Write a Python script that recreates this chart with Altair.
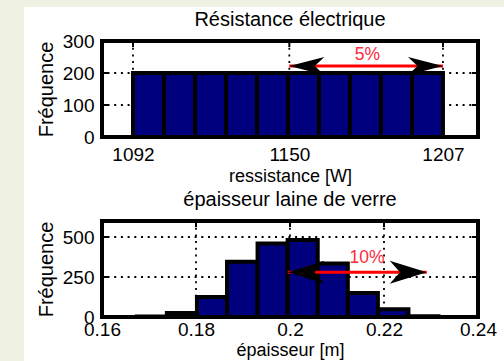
import altair as alt
import pandas as pd

# ---------------- data ----------------
res_edges = [1092.0, 1103.5, 1115.0, 1126.5, 1138.0, 1149.5, 1161.0, 1172.5, 1184.0, 1195.5, 1207.0]
res_counts = [200, 200, 200, 200, 200, 200, 200, 200, 200, 200]
res_xticks = [1092, 1150, 1207]
res_yticks = [0, 100, 200, 300]
res_grid_x = [1092, 1150, 1207]
res_grid_y = [100, 200]
res_arrow = {"x1": [1150.0], "x2": [1207.0], "y": [222.0]}
res_label = {"x": [1179.0], "y": [256.0], "t": ["5%"]}

ep_edges = [0.1674, 0.1738, 0.1802, 0.1866, 0.1931, 0.1995, 0.2059, 0.2123, 0.2187, 0.2252, 0.2316]
ep_counts = [3, 25, 125, 346, 460, 481, 335, 150, 48, 5]
ep_xticks = [0.16, 0.18, 0.2, 0.22, 0.24]
ep_yticks = [0, 250, 500]
ep_grid_x = [0.18, 0.2, 0.22]
ep_grid_y = [250, 500]
ep_arrow = {"x1": [0.1995], "x2": [0.2291], "y": [280.0]}
ep_label = {"x": [0.2164], "y": [369.0], "t": ["10%"]}

titles = ["Résistance électrique", "épaisseur laine de verre"]
xtitles = ["ressistance [W]", "épaisseur [m]"]

FONT = "Liberation Sans"
BAR = "#00007f"
GREEN = "#eff2e3"
RED = "#ff0000"
TXTRED = "#ff2a3c"
W, H = 376, 96
TK = 6  # inward tick length


def panel(edges, counts, xdom, ydom, xticks, yticks, gx, gy, arrow, label,
          title, xtitle, xfmt, lab_pad, title_pad, head_len, head_half, bg=False):
    xs = alt.Scale(domain=xdom, nice=False, zero=False)
    ys = alt.Scale(domain=ydom, nice=False, zero=False)
    xaxis = alt.Axis(values=xticks, format=xfmt, title=xtitle, labelFontSize=19,
                     titleFontSize=18, titleFontWeight="normal", titleBaseline="alphabetic",
                     labelPadding=lab_pad, titlePadding=title_pad, zindex=1,
                     grid=False, domain=False, ticks=False, labelFlush=False)
    yaxis = alt.Axis(values=yticks, format="d", title="Fréquence", labelFontSize=19,
                     titleFontSize=20, titleFontWeight="normal",
                     labelPadding=8, titlePadding=6, zindex=1,
                     grid=False, domain=False, ticks=False, labelFlush=False)

    def X(f):
        return alt.X(f, type="quantitative", scale=xs, axis=xaxis)

    def Y(f):
        return alt.Y(f, type="quantitative", scale=ys, axis=yaxis)

    one = pd.DataFrame({"k": [0]})
    layers = []
    if bg:
        layers.append(alt.Chart(one).mark_rect(fill="white").encode(
            x=alt.value(-78), x2=alt.value(402), y=alt.value(-34), y2=alt.value(320)))
    dot = dict(color="black", strokeWidth=1.8, strokeDash=[2, 4.7])
    layers.append(alt.Chart(pd.DataFrame({"x": gx})).mark_rule(**dot).encode(x=X("x")))
    layers.append(alt.Chart(pd.DataFrame({"y": gy})).mark_rule(**dot).encode(y=Y("y")))
    # MATLAB-style inward ticks
    xt = pd.DataFrame({"x": xticks})
    yt = pd.DataFrame({"y": yticks})
    tk = dict(color="black", strokeWidth=2)
    layers.append(alt.Chart(xt).mark_rule(**tk).encode(
        x=X("x"), y=alt.value(0), y2=alt.value(TK)))
    layers.append(alt.Chart(xt).mark_rule(**tk).encode(
        x=X("x"), y=alt.value(H - TK), y2=alt.value(H)))
    layers.append(alt.Chart(yt).mark_rule(**tk).encode(
        y=Y("y"), x=alt.value(0), x2=alt.value(TK)))
    layers.append(alt.Chart(yt).mark_rule(**tk).encode(
        y=Y("y"), x=alt.value(W - TK), x2=alt.value(W)))
    bars = pd.DataFrame({"lo": edges[:-1], "hi": edges[1:], "c": counts})
    layers.append(alt.Chart(bars).mark_rect(fill=BAR, stroke="black", strokeWidth=4,
                                            strokeJoin="miter").encode(
        x=X("lo"), x2="hi", y=Y("c"), y2=alt.Y2(datum=0)))
    adf = pd.DataFrame(arrow)
    layers.append(alt.Chart(adf).mark_rule(color=RED, strokeWidth=3).encode(
        x=X("x1"), x2="x2", y=Y("y")))
    hl = f"M-1,0 L1,-{head_half} L0.45,0 L1,{head_half} Z"
    hr = f"M1,0 L-1,-{head_half} L-0.45,0 L-1,{head_half} Z"
    size = head_len ** 2
    layers.append(alt.Chart(adf).mark_point(shape=hl, size=size, filled=True, color="black",
                                            opacity=1, xOffset=head_len / 2).encode(
        x=X("x1"), y=Y("y")))
    layers.append(alt.Chart(adf).mark_point(shape=hr, size=size, filled=True, color="black",
                                            opacity=1, xOffset=-head_len / 2).encode(
        x=X("x2"), y=Y("y")))
    layers.append(alt.Chart(pd.DataFrame(label)).mark_text(
        color=TXTRED, fontSize=17.5, font=FONT).encode(x=X("x"), y=Y("y"), text="t:N"))
    layers.append(alt.Chart(one).mark_rect(fillOpacity=0, stroke="black", strokeWidth=4,
                                           strokeJoin="miter").encode(
        x=alt.value(0), x2=alt.value(W), y=alt.value(0), y2=alt.value(H)))
    layers.append(alt.Chart(pd.DataFrame({"t": [title]})).mark_text(
        font=FONT, fontSize=20, color="black", baseline="alphabetic", align="center").encode(
        x=alt.value(W / 2), y=alt.value(-15.5), text="t:N"))
    return alt.layer(*layers).properties(width=W, height=H)


top = panel(res_edges, res_counts, [1080.5, 1220], [0, 300], res_xticks, res_yticks,
            res_grid_x, res_grid_y, res_arrow, res_label, titles[0],
            xtitles[0], "d", 8.3, 17.5, 35, 0.51, bg=True)
bottom = panel(ep_edges, ep_counts, [0.16, 0.24], [0, 600], ep_xticks, ep_yticks,
               ep_grid_x, ep_grid_y, ep_arrow, ep_label, titles[1],
               xtitles[1], ".2~f", 3.3, 16.5, 37, 0.62)

chart = alt.vconcat(top, bottom, spacing=84, bounds="flush").properties(
    padding={"left": 24, "top": 7, "right": 0, "bottom": 0},
).configure(background=GREEN).configure_view(stroke=None).configure_axis(
    labelFont=FONT, titleFont=FONT, labelColor="black", titleColor="black",
)

chart.save("out.html", embed_options={"renderer": "svg", "actions": False})
